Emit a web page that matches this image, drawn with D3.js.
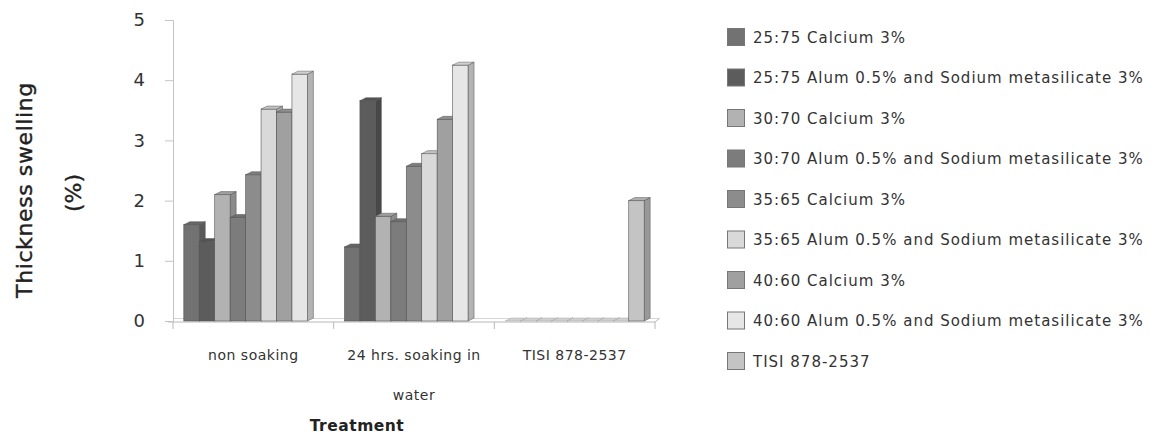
<!DOCTYPE html>
<html>
<head>
<meta charset="utf-8">
<script src="https://cdn.jsdelivr.net/npm/d3@7"></script>
<style>
  html, body { margin: 0; padding: 0; background: #fff; }
  svg { display: block; font-family: "DejaVu Sans", sans-serif; }
</style>
</head>
<body>
<svg id="chart" width="1155" height="436"></svg>
<script>
// Treatments on the x axis
const categories = ["non soaking", "24 hrs. soaking in water", "TISI 878-2537"];
const categoryLines = [["non soaking"], ["24 hrs. soaking in", "water"], ["TISI 878-2537"]];

// Board formulations (series)
const seriesNames = [
  "25:75 Calcium 3%",
  "25:75 Alum 0.5% and Sodium metasilicate 3%",
  "30:70 Calcium 3%",
  "30:70 Alum 0.5% and Sodium metasilicate 3%",
  "35:65 Calcium 3%",
  "35:65 Alum 0.5% and Sodium metasilicate 3%",
  "40:60 Calcium 3%",
  "40:60 Alum 0.5% and Sodium metasilicate 3%",
  "TISI 878-2537"
];

// Thickness swelling (%) per series, in category order
const nonSoaking = [1.6, 1.32, 2.1, 1.72, 2.43, 3.52, 3.47, 4.1, null];
const soaking24h = [1.23, 3.66, 1.74, 1.65, 2.57, 2.78, 3.35, 4.25, null];
const tisiStandard = [0, 0, 0, 0, 0, 0, 0, 0, 2.0];
const values = [nonSoaking, soaking24h, tisiStandard];

const yTicks = [0, 1, 2, 3, 4, 5];

const fills = ["#727272", "#5c5c5c", "#b2b2b2", "#7c7c7c", "#8c8c8c", "#d9d9d9", "#a0a0a0", "#e6e6e6", "#c4c4c4"];

const svg = d3.select("#chart");

const y = d3.scaleLinear().domain([0, 5]).range([321, 20]);
const x0 = d3.scaleBand().domain(categories).range([173, 655]).padding(0);
const x1 = d3.scaleBand().domain(d3.range(seriesNames.length))
  .range([0, x0.bandwidth()]).paddingInner(0).paddingOuter(0.7);

const depthX = 6, depthY = 3;

// floor
svg.append("path")
  .attr("d", `M${168},${322}L${655},${322}L${660},${318}`)
  .attr("fill", "none").attr("stroke", "#b8b8b8").attr("stroke-width", 1);
svg.append("line")
  .attr("x1", 173).attr("x2", 660).attr("y1", 318.5).attr("y2", 318.5)
  .attr("stroke", "#d6d6d6").attr("stroke-width", 1);

// y axis
const yAxis = d3.axisLeft(y).tickValues(yTicks).tickSize(8).tickPadding(20).tickFormat(d3.format("d"));
const yg = svg.append("g").attr("transform", "translate(173,0)").call(yAxis);
yg.select(".domain").attr("stroke", "#c4c4c4");
yg.selectAll(".tick line").attr("stroke", "#c4c4c4");
yg.selectAll(".tick text").attr("font-size", 18).attr("fill", "#333")
  .attr("font-family", "DejaVu Sans, sans-serif");

// x axis ticks at the category boundaries
const bounds = categories.map(c => x0(c)).concat([x0(categories[2]) + x0.bandwidth()]);
svg.selectAll(".xtick").data(bounds).join("line")
  .attr("x1", d => d).attr("x2", d => d).attr("y1", 322).attr("y2", 329)
  .attr("stroke", "#b8b8b8");

// bars
const bars = [];
categories.forEach((c, ci) => {
  values[ci].forEach((v, si) => {
    if (v === null) return;
    bars.push({ c, si, v });
  });
});

const barG = svg.append("g");
bars.forEach(b => {
  const xl = x0(b.c) + x1(b.si);
  const w = x1.bandwidth();
  const yt = y(b.v);
  const yb = y(0);
  const base = d3.color(fills[b.si]);
  const g = barG.append("g");
  // side face
  g.append("path")
    .attr("d", `M${xl + w},${yb}L${xl + w + depthX},${yb - depthY}L${xl + w + depthX},${yt - depthY}L${xl + w},${yt}Z`)
    .attr("fill", base.darker(0.7)).attr("stroke", "#555").attr("stroke-width", 0.5);
  // front face
  if (b.v > 0) {
    g.append("rect")
      .attr("x", xl).attr("y", yt).attr("width", w).attr("height", yb - yt)
      .attr("fill", base).attr("stroke", "#555").attr("stroke-width", 0.6);
  }
  // top face
  g.append("path")
    .attr("d", `M${xl},${yt}L${xl + w},${yt}L${xl + w + depthX},${yt - depthY}L${xl + depthX},${yt - depthY}Z`)
    .attr("fill", b.v > 0 ? base.darker(0.3) : "#d0d0d0").attr("stroke", b.v > 0 ? "#555" : "#aaa").attr("stroke-width", 0.5);
});

// x tick labels
const xl = svg.append("g");
categories.forEach((c, i) => {
  const cx = x0(c) + x0.bandwidth() / 2;
  categoryLines[i].forEach((t, li) => {
    xl.append("text").attr("x", cx).attr("y", 360 + li * 40)
      .attr("text-anchor", "middle").attr("font-size", 14).attr("letter-spacing", 0.5)
      .attr("fill", "#333").text(t);
  });
});

// axis titles
svg.append("text").attr("x", 357).attr("y", 431).attr("text-anchor", "middle")
  .attr("font-size", 15.5).attr("font-weight", "bold").attr("letter-spacing", 0.5)
  .attr("fill", "#222").text("Treatment");
svg.append("text").attr("transform", "translate(32,190) rotate(-90)").attr("text-anchor", "middle")
  .attr("font-size", 22).attr("letter-spacing", 0.6)
  .attr("fill", "#222").attr("stroke", "#222").attr("stroke-width", 0.4)
  .text("Thickness swelling");
svg.append("text").attr("transform", "translate(81,193) rotate(-90)").attr("text-anchor", "middle")
  .attr("font-size", 22).attr("fill", "#222").attr("stroke", "#222").attr("stroke-width", 0.4)
  .text("(%)");

// legend
const legend = svg.append("g").attr("transform", "translate(727,0)");
const rowY = d3.scalePoint().domain(d3.range(seriesNames.length)).range([37, 361]);
seriesNames.forEach((name, i) => {
  const cy = rowY(i);
  legend.append("rect").attr("x", 0.5).attr("y", cy - 8.5).attr("width", 17).attr("height", 17)
    .attr("fill", fills[i]).attr("stroke", "#777").attr("stroke-width", 1);
  legend.append("text").attr("x", 26).attr("y", cy + 5.5)
    .attr("font-size", 15).attr("letter-spacing", 1).attr("fill", "#333").text(name);
});
</script>
</body>
</html>
